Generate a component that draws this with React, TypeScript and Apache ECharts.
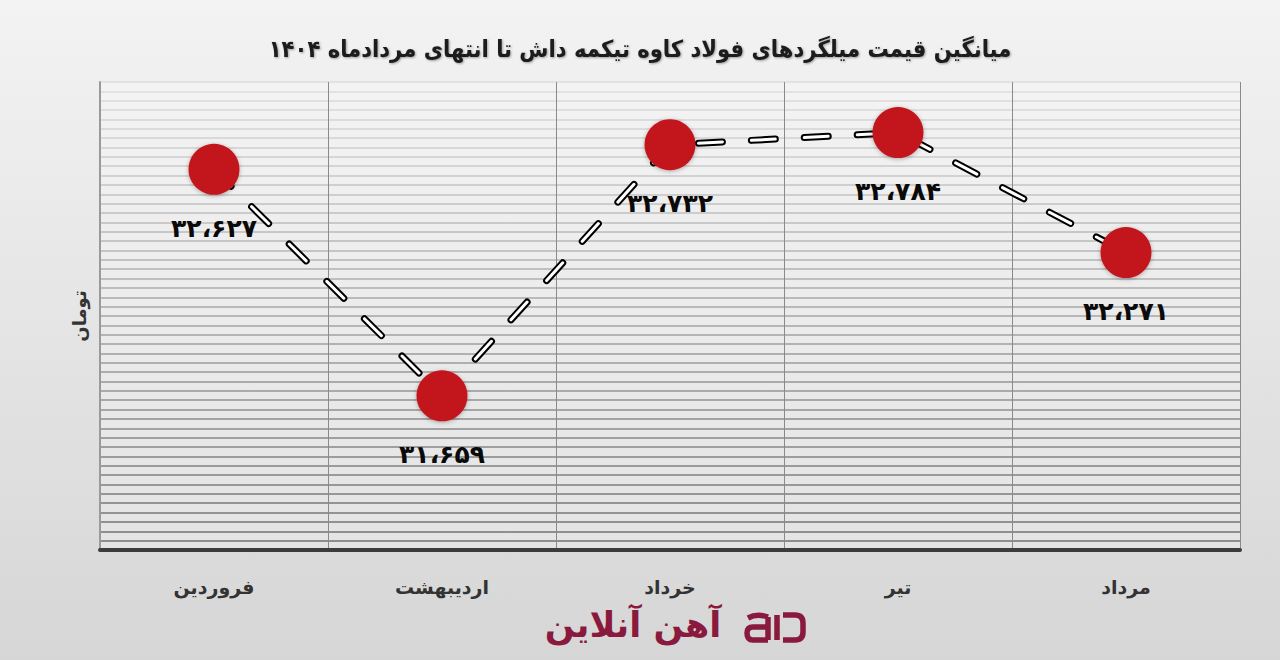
import { useEffect, useRef } from 'react';
import * as echarts from 'echarts';

const months = ['فروردین', 'اردیبهشت', 'خرداد', 'تیر', 'مرداد'];
const prices = [32627, 31659, 32732, 32784, 32271];
const titleText = 'میانگین قیمت میلگردهای فولاد کاوه تیکمه داش تا انتهای مردادماه ۱۴۰۴';
const yAxisName = 'تومان';
const brandName = 'آهن آنلاین';
const yMin = 31000;
const yMax = 33000;
const yStep = 40;

const faDigits = '۰۱۲۳۴۵۶۷۸۹';
function toFa(n: number): string {
  return n
    .toLocaleString('en-US')
    .replace(/\d/g, (d) => faDigits[+d])
    .replace(/,/g, '،');
}

const logoD =
  'M4 6 Q13 1 24 5 M24 5 L24 28 M24 15 L9 15 Q3 15 3 21 Q3 28 9 28 L24 28 M33 3 L33 28 M39 3 L51 3 Q59 3 59 11 L59 20 Q59 28 51 28 L39 28';

let registered = false;

export default function App() {
  const ref = useRef<HTMLDivElement>(null);
  useEffect(() => {
    if (!ref.current) return;
    if (!registered) {
      echarts.graphic.registerShape('logo', echarts.graphic.extendPath(logoD, {}) as any);
      registered = true;
    }
    const chart = echarts.init(ref.current, undefined, { renderer: 'svg' });
    const nLines = Math.round((yMax - yMin) / yStep) + 1;
    const gridColors: string[] = [];
    for (let i = 0; i < nLines; i++) {
      const t = i / (nLines - 1);
      const g = Math.round(110 + t * (222 - 110));
      gridColors.push(`rgb(${g},${g},${g})`);
    }
    const font = "'DejaVu Sans', sans-serif";
    const condensed = "'DejaVu Sans Condensed', 'DejaVu Sans', sans-serif";
    const dash = [24, 29];
    chart.setOption({
      animation: false,
      backgroundColor: 'transparent',
      textStyle: { fontFamily: font },
      title: {
        text: titleText,
        left: 'center',
        top: 32,
        textStyle: {
          fontFamily: condensed,
          fontSize: 23.5,
          fontWeight: 'bold',
          color: '#1a1a1a',
          textShadowColor: 'rgba(0,0,0,0.35)',
          textShadowBlur: 2,
          textShadowOffsetX: 1,
          textShadowOffsetY: 1,
        },
      },
      grid: {
        left: 100,
        right: 40,
        top: 82,
        bottom: 110,
        show: true,
        borderWidth: 0,
        backgroundColor: 'rgba(255,255,255,0.25)',
      },
      xAxis: {
        type: 'category',
        data: months,
        boundaryGap: true,
        axisLine: { show: true, lineStyle: { color: '#3c3c3c', width: 4 } },
        axisTick: { show: false },
        axisLabel: {
          margin: 27,
          fontFamily: font,
          fontSize: 19,
          fontWeight: 'bold',
          color: '#333',
        },
        splitLine: { show: true, lineStyle: { color: '#8a8a8a', width: 1 } },
      },
      yAxis: {
        type: 'value',
        min: yMin,
        max: yMax,
        interval: yStep,
        name: yAxisName,
        nameLocation: 'middle',
        nameRotate: 90,
        nameGap: 12,
        nameTextStyle: { fontFamily: font, fontSize: 18, fontWeight: 'bold', color: '#333' },
        axisLabel: { show: false },
        axisTick: { show: false },
        axisLine: { show: true, lineStyle: { color: '#9a9a9a', width: 2 } },
        splitLine: { show: true, lineStyle: { color: gridColors, width: 1.5 } },
      },
      graphic: [
        {
          type: 'text',
          x: 633,
          y: 625,
          style: {
            text: brandName,
            fontFamily: font,
            fontSize: 35,
            fontWeight: 'bold',
            fill: '#8a1a3d',
            textAlign: 'center',
            textVerticalAlign: 'middle',
          },
        },
        {
          type: 'logo',
          x: 744,
          y: 612,
          scaleX: 1,
          scaleY: 1,
          style: { fill: 'none', stroke: '#8a1a3d', lineWidth: 5.5 },
        },
      ],
      series: [
        {
          type: 'line',
          data: prices,
          symbol: 'none',
          silent: true,
          lineStyle: { color: '#000', width: 7, type: dash, cap: 'round' },
          z: 2,
        },
        {
          type: 'line',
          data: prices,
          symbol: 'none',
          silent: true,
          lineStyle: { color: '#fff', width: 3, type: dash, cap: 'round' },
          z: 3,
        },
        {
          type: 'scatter',
          data: prices,
          symbol: 'circle',
          symbolSize: 51,
          itemStyle: {
            color: '#c3161c',
            opacity: 1,
            shadowColor: 'rgba(0,0,0,0.3)',
            shadowBlur: 4,
            shadowOffsetY: 1,
          },
          label: {
            show: true,
            position: 'bottom',
            distance: 21,
            formatter: (p: any) => toFa(p.value),
            fontFamily: font,
            fontSize: 25,
            fontWeight: 'bold',
            color: '#0a0a0a',
          },
          z: 4,
        },
      ],
    });
    return () => chart.dispose();
  }, []);
  return (
    <div
      style={{
        position: 'absolute',
        left: 0,
        top: 0,
        width: 1280,
        height: 660,
        background: 'linear-gradient(to bottom, #f3f3f3 0%, #e6e6e6 45%, #d6d6d6 100%)',
      }}
    >
      <div ref={ref} style={{ width: 1280, height: 660 }} />
    </div>
  );
}
